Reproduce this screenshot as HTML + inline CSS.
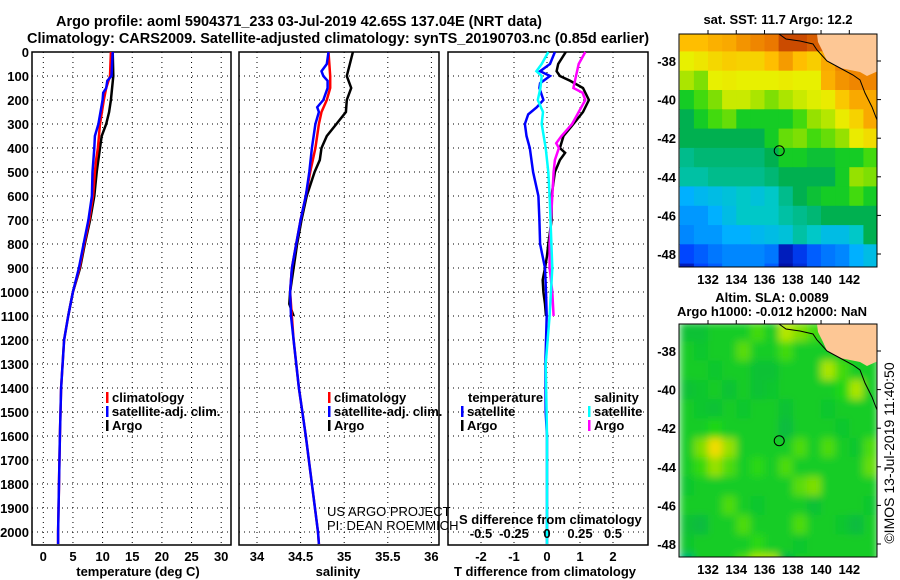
<!DOCTYPE html>
<html><head><meta charset="utf-8"><style>
html,body{margin:0;padding:0;background:#fff;}
svg{display:block;font-family:"Liberation Sans",Arial,sans-serif;}
.b{font-weight:bold;font-size:13px;}
.t{font-weight:bold;font-size:14.5px;}
</style></head><body>
<svg id="fig" width="900" height="580" viewBox="0 0 900 580" xmlns="http://www.w3.org/2000/svg">
<defs><filter id="blur" x="0" y="0" width="1" height="1"><feGaussianBlur stdDeviation="4" edgeMode="duplicate"/></filter></defs>
<text class="t" x="56" y="26">Argo profile: aoml 5904371_233 03-Jul-2019 42.65S 137.04E (NRT data)</text>
<text class="t" x="27" y="43">Climatology: CARS2009. Satellite-adjusted climatology: synTS_20190703.nc (0.85d earlier)</text>
<g id="p1"></g>
<g id="p2"></g>
<g id="p3"></g>
<g id="m1"></g>
<g id="m2"></g>
<text x="778" y="24" text-anchor="middle" class="b">sat. SST: 11.7 Argo: 12.2</text>
<text x="772" y="302" text-anchor="middle" class="b">Altim. SLA: 0.0089</text>
<text x="772" y="316" text-anchor="middle" class="b">Argo h1000: -0.012 h2000: NaN</text>
<text transform="translate(894,453) rotate(-90)" text-anchor="middle" font-size="14">©IMOS 13-Jul-2019 11:40:50</text>
<text x="327" y="516" font-size="13">US ARGO PROJECT</text>
<text x="327" y="530" font-size="13">PI: DEAN ROEMMICH</text>
</svg>
<script>
// ---- profile data (depth m) ----
const depthTicks=[0,100,200,300,400,500,600,700,800,900,1000,1100,1200,1300,1400,1500,1600,1700,1800,1900,2000];
const tTicks=[0,5,10,15,20,25,30];
const sTicks=[34,34.5,35,35.5,36];
const sTickLabels=["34","34.5","35","35.5","36"];
const dTTicks=[-2,-1,0,1,2];
const dSTicks=[-0.5,-0.25,0,0.25,0.5];
const dSTickLabels=["-0.5","-0.25","0","0.25","0.5"];

const argoTD=[0,100,200,250,300,350,400,500,600,700,800,900,1000,1100];
const argoT=[11.7,11.8,11.4,11.1,10.6,9.85,9.56,9.0,8.6,7.9,7.0,6.2,5.0,4.2];
const climTD=[0,100,150,200,300,400,450,500,600,700,800,900,1000,1100,1200,1400,1600,1800,2000,2050];
const climT=[11.4,11.25,10.6,10.2,9.56,9.2,8.9,8.7,8.4,7.75,6.9,6.1,5.0,4.2,3.5,3.0,2.8,2.65,2.5,2.5];
const satTD=[0,100,120,150,170,200,300,350,400,500,600,700,800,900,950,1000,1100,1200,1400,1600,1800,2000,2050];
const satT=[11.7,11.5,10.8,10.6,10.1,10.0,9.3,8.7,8.6,8.3,8.2,7.6,6.8,6.0,5.5,5.0,4.2,3.5,3.0,2.8,2.65,2.5,2.5];

const argoSD=[0,100,150,200,250,300,350,400,450,500,600,700,800,900,1000,1050,1100];
const argoS=[35.10,35.03,35.08,35.03,35.02,34.91,34.80,34.74,34.72,34.66,34.57,34.51,34.46,34.42,34.38,34.37,34.42];
const climSD=[0,100,150,200,250,300,400,500,600,700,800,900,1000,1200,1400,1600,1800,2000,2050];
const climS=[34.82,34.84,34.84,34.80,34.74,34.71,34.67,34.61,34.56,34.50,34.45,34.40,34.38,34.42,34.48,34.56,34.63,34.70,34.71];
const satSD=[0,50,80,100,120,150,200,230,250,300,400,500,600,700,800,900,1000,1100,1200,1400,1600,1800,2000,2050];
const satS=[34.82,34.80,34.74,34.76,34.81,34.81,34.76,34.69,34.71,34.67,34.63,34.60,34.56,34.50,34.45,34.40,34.38,34.39,34.42,34.48,34.56,34.63,34.70,34.71];

const dArgoTD=[0,50,80,100,120,150,200,250,300,350,400,420,450,500,600,700,800,850,900,950,1000,1050,1100];
const dArgoT=[0.57,0.34,0.29,0.39,0.7,1.09,1.27,1.09,0.8,0.5,0.39,0.55,0.39,0.24,0.14,0.14,0.04,0.0,-0.06,-0.13,-0.11,-0.06,-0.03];
const dSatTD=[0,50,80,100,130,150,200,230,260,300,350,400,500,600,700,800,900,1000,1100,1300,1500,1600,2050];
const dSatT=[0.24,0.09,-0.21,0.09,-0.21,-0.23,-0.11,-0.31,-0.57,-0.67,-0.62,-0.52,-0.42,-0.26,-0.23,-0.21,-0.06,-0.03,-0.01,-0.05,-0.04,0.0,0.0];
const dSatSD=[0,50,80,100,150,200,250,300,400,500,600,900,1100,1300,1600,2050];
const dSatS=[0.01,-0.04,-0.08,-0.04,-0.05,-0.07,-0.03,-0.04,-0.01,0.01,0.02,0.04,0.02,-0.01,0.0,0.0];
const dArgoSD=[0,50,100,150,170,200,250,300,350,380,400,450,500,600,700,800,900,1000,1100];
const dArgoS=[0.29,0.24,0.22,0.2,0.27,0.29,0.24,0.19,0.11,0.07,0.09,0.06,0.05,0.04,0.03,0.02,0.02,0.04,0.05];

// ---- map data (rows lat 37..49 S, cols lon 130.5..143.5) ----
const mapLats=[37,38,39,40,41,42,43,44,45,46,47,48,49];
const mapLons=[130.5,131.5,132.5,133.5,134.5,135.5,136.5,137.5,138.5,139.5,140.5,141.5,142.5,143.5];
const sstGrid=[
[0.8,0.8,0.82,0.83,0.86,0.88,0.9,0.95,0.95,0.93,0.93,0.9,0.88,0.88],
[0.7,0.72,0.75,0.77,0.76,0.76,0.8,0.85,0.8,0.77,0.83,0.88,0.88,0.88],
[0.64,0.6,0.7,0.71,0.7,0.7,0.7,0.71,0.7,0.7,0.82,0.86,0.88,0.88],
[0.5,0.55,0.6,0.67,0.67,0.64,0.6,0.64,0.67,0.69,0.71,0.78,0.83,0.83],
[0.45,0.5,0.55,0.58,0.5,0.5,0.5,0.5,0.55,0.62,0.65,0.71,0.76,0.83],
[0.45,0.45,0.45,0.45,0.45,0.45,0.5,0.58,0.6,0.55,0.58,0.62,0.71,0.74],
[0.4,0.42,0.42,0.42,0.42,0.42,0.45,0.5,0.5,0.48,0.48,0.5,0.5,0.55],
[0.38,0.38,0.4,0.4,0.4,0.4,0.42,0.45,0.45,0.45,0.45,0.5,0.62,0.6],
[0.25,0.28,0.3,0.32,0.35,0.32,0.35,0.4,0.45,0.48,0.5,0.5,0.55,0.5],
[0.22,0.22,0.25,0.3,0.35,0.35,0.35,0.38,0.4,0.42,0.45,0.45,0.45,0.45],
[0.2,0.22,0.22,0.25,0.25,0.28,0.3,0.32,0.38,0.35,0.3,0.3,0.35,0.45],
[0.12,0.15,0.18,0.2,0.2,0.2,0.18,0.05,0.1,0.15,0.18,0.2,0.25,0.3],
[0.05,0.12,0.15,0.2,0.2,0.2,0.15,0.03,0.08,0.15,0.18,0.2,0.25,0.3]];
const slaGrid=[
[0.48,0.48,0.5,0.5,0.5,0.55,0.5,0.65,0.6,0.55,0.5,0.5,0.5,0.5],
[0.5,0.49,0.5,0.5,0.57,0.5,0.5,0.55,0.5,0.5,0.5,0.5,0.5,0.5],
[0.5,0.5,0.49,0.5,0.5,0.48,0.48,0.5,0.5,0.5,0.64,0.55,0.5,0.5],
[0.48,0.49,0.5,0.48,0.5,0.48,0.49,0.5,0.5,0.5,0.5,0.52,0.64,0.5],
[0.5,0.49,0.48,0.5,0.49,0.5,0.5,0.48,0.5,0.5,0.49,0.5,0.5,0.5],
[0.5,0.5,0.52,0.5,0.5,0.5,0.5,0.47,0.5,0.5,0.5,0.49,0.5,0.5],
[0.5,0.6,0.74,0.62,0.5,0.5,0.5,0.5,0.56,0.5,0.56,0.5,0.49,0.56],
[0.5,0.54,0.62,0.56,0.5,0.53,0.5,0.56,0.5,0.5,0.5,0.5,0.5,0.58],
[0.49,0.5,0.5,0.5,0.5,0.5,0.5,0.5,0.57,0.6,0.5,0.5,0.5,0.5],
[0.5,0.5,0.5,0.56,0.5,0.49,0.5,0.5,0.5,0.48,0.5,0.5,0.5,0.49],
[0.48,0.47,0.5,0.5,0.56,0.5,0.5,0.5,0.56,0.5,0.5,0.49,0.47,0.5],
[0.49,0.5,0.5,0.5,0.5,0.53,0.5,0.5,0.49,0.5,0.5,0.5,0.5,0.5],
[0.42,0.5,0.5,0.5,0.56,0.64,0.64,0.46,0.5,0.5,0.5,0.5,0.5,0.5]];
const mapLatTicks=[38,40,42,44,46,48];
const mapLonTicks=[132,134,136,138,140,142];
const floatLon=137.04, floatLat=42.65;

const NS="http://www.w3.org/2000/svg";
function mk(parent,tag,attrs,txt){const e=document.createElementNS(NS,tag);for(const k in attrs)e.setAttribute(k,attrs[k]);if(txt!==undefined)e.textContent=txt;parent.appendChild(e);return e;}
const TOP=52,BOT=545;
const yD=d=>TOP+d*0.24;

function panel(g,x0,x1,xs,ticks,labels,grid){
  grid.forEach(v=>{const l=mk(g,'line',{x1:xs(v),x2:xs(v),y1:TOP,y2:BOT,stroke:'#000','stroke-width':1,'stroke-dasharray':'1 4'});
    
    });
  depthTicks.forEach(d=>{const l=mk(g,'line',{x1:x0,x2:x1,y1:yD(d),y2:yD(d),stroke:'#000','stroke-width':1,'stroke-dasharray':'1 4'});
    
    });
  const r=mk(g,'rect',{x:x0,y:TOP,width:x1-x0,height:BOT-TOP,fill:'none',stroke:'#000','stroke-width':1.5});
  
  
  ticks.forEach((v,i)=>{const t=mk(g,'text',{x:xs(v),y:561,'text-anchor':'middle','class':'b'},labels[i]);
    
    });
}
function line(g,xs,ds,vs,color,name,w){
  const pts=ds.map((d,i)=>xs(vs[i]).toFixed(1)+','+yD(d).toFixed(1)).join(' ');
  const p=mk(g,'polyline',{points:pts,fill:'none',stroke:color,'stroke-width':w||2.5});
  
  
}
function legend(g,x,y,items){
  items.forEach((it,i)=>{
    const b=mk(g,'rect',{x:x,y:y+i*14-10,width:2.5,height:11,fill:it[0]});
    
    
    const t=mk(g,'text',{x:x+6,y:y+i*14,'class':'b'},it[1]);
    
    
  });
}
// panel 1
const p1=document.getElementById('p1');
const xT=v=>43.3+v*5.93;
panel(p1,32,231,xT,tTicks,tTicks.map(String),tTicks);
depthTicks.forEach(d=>{const t=mk(p1,'text',{x:29,y:yD(d)+5,'text-anchor':'end','class':'b'},String(d));
  
  });
line(p1,xT,argoTD,argoT,'#000','argo-temperature-line');
line(p1,xT,climTD,climT,'#f00','climatology-temperature-line');
line(p1,xT,satTD,satT,'#00f','satellite-temperature-line');
legend(p1,106,402,[['#f00','climatology'],['#00f','satellite-adj. clim.'],['#000','Argo']]);
let lab=mk(p1,'text',{x:138,y:576,'text-anchor':'middle','class':'b'},'temperature (deg C)');


// panel 2
const p2=document.getElementById('p2');
const xS=v=>257+(v-34)*87.2;
panel(p2,239,439,xS,sTicks,sTickLabels,sTicks);
line(p2,xS,argoSD,argoS,'#000','argo-salinity-line');
line(p2,xS,climSD,climS,'#f00','climatology-salinity-line');
line(p2,xS,satSD,satS,'#00f','satellite-salinity-line');
legend(p2,328,402,[['#f00','climatology'],['#00f','satellite-adj. clim.'],['#000','Argo']]);
lab=mk(p2,'text',{x:338,y:576,'text-anchor':'middle','class':'b'},'salinity');


// panel 3
const p3=document.getElementById('p3');
const xdT=v=>547+v*33;
const xdS=v=>547+v*132;
panel(p3,448,648,xdT,dTTicks,dTTicks.map(String),dTTicks);
line(p3,xdT,dArgoTD,dArgoT,'#000','argo-temperature-difference-line');
line(p3,xdT,dSatTD,dSatT,'#00f','satellite-temperature-difference-line');
line(p3,xdS,dArgoSD,dArgoS,'#f0f','argo-salinity-difference-line');
line(p3,xdS,dSatSD,dSatS,'#0ff','satellite-salinity-difference-line');
let tt=mk(p3,'text',{x:468,y:402,'class':'b'},'temperature');


legend(p3,461,416,[['#00f','satellite'],['#000','Argo']]);
tt=mk(p3,'text',{x:594,y:402,'class':'b'},'salinity');


legend(p3,588,416,[['#0ff','satellite'],['#f0f','Argo']]);
tt=mk(p3,'text',{x:459,y:524,'class':'b'},'S difference from climatology');


dSTicks.forEach((v,i)=>{const t=mk(p3,'text',{x:xdS(v),y:538,'text-anchor':'middle','class':'b'},dSTickLabels[i]);
  
  });
lab=mk(p3,'text',{x:545,y:576,'text-anchor':'middle','class':'b'},'T difference from climatology');



// ---- maps ----
const stops=[[0,[0,0,140]],[0.12,[0,70,255]],[0.25,[0,176,255]],[0.35,[0,200,200]],[0.45,[0,176,80]],[0.52,[30,215,20]],[0.62,[150,225,0]],[0.7,[232,240,0]],[0.8,[255,190,0]],[0.9,[235,120,0]],[1,[170,30,0]]];
function cmap(v){for(let i=1;i<stops.length;i++){if(v<=stops[i][0]){const a=stops[i-1],b=stops[i],f=(v-a[0])/(b[0]-a[0]);
  return 'rgb('+a[1].map((c,k)=>Math.round(c+f*(b[1][k]-c))).join(',')+')';}}return 'rgb(170,30,0)';}
function drawMap(id,grid,top,clipId,smooth){
  const g=document.getElementById(id);
  const L=679,R=877,B=top+233;
  const xL=lon=>708+(lon-132)*14.13;
  const yL=lat=>top+27+(lat-38)*19.3;
  const cp=mk(g,'clipPath',{id:clipId});mk(cp,'rect',{x:L,y:top,width:R-L,height:B-top});
  const outer=mk(g,'g',{'clip-path':'url(#'+clipId+')'});
  const cg=mk(outer,'g',smooth?{filter:'url(#blur)'}:{});
  mapLats.forEach((lat,r)=>mapLons.forEach((lon,c)=>{
    const x0=xL(lon-0.5),y0=yL(lat-0.5);
    const cell=mk(cg,'rect',{x:x0.toFixed(1),y:y0.toFixed(1),width:(xL(lon+0.5)-x0+0.6).toFixed(1),height:(yL(lat+0.5)-y0+0.6).toFixed(1),fill:cmap(grid[r][c])});
    
    
  }));
  const land=mk(outer,'polygon',{points:'817,'+top+' 818,'+(top+8)+' 823,'+(top+18)+' 827,'+(top+27)+' 840,'+(top+34)+' 860,'+(top+38)+' 867,'+(top+42)+' 878,'+(top+37)+' 878,'+top,fill:'#fdc795'});
  
  
  const coast=mk(outer,'polyline',{points:'779,'+top+' 786,'+(top+5)+' 800,'+(top+7)+' 813,'+(top+10)+' 817,'+(top+16)+' 827,'+(top+27)+' 840,'+(top+34)+' 853,'+(top+41)+' 860,'+(top+46)+' 865,'+(top+59)+' 872,'+(top+73)+' 877,'+(top+86),fill:'none',stroke:'#000','stroke-width':1});
  
  
  const fr=mk(g,'rect',{x:L,y:top,width:R-L,height:B-top,fill:'none',stroke:'#000','stroke-width':1});
  
  
  mapLatTicks.forEach(lat=>{const t=mk(g,'text',{x:676,y:yL(lat)+5,'text-anchor':'end','class':'b'},'-'+lat);
    
    
    mk(g,'line',{x1:R,x2:R+4,y1:yL(lat),y2:yL(lat),stroke:'#000'});});
  mapLonTicks.forEach(lon=>{const t=mk(g,'text',{x:xL(lon),y:B+17,'text-anchor':'middle','class':'b'},String(lon));
    
    
    mk(g,'line',{x1:xL(lon),x2:xL(lon),y1:top,y2:top-4,stroke:'#000'});});
  const m=mk(g,'circle',{cx:xL(floatLon),cy:yL(floatLat),r:5,fill:'none',stroke:'#000','stroke-width':1});
  
  
}
drawMap('m1',sstGrid,34,'c1',false);
drawMap('m2',slaGrid,324,'c2',true);
</script>
</body></html>
